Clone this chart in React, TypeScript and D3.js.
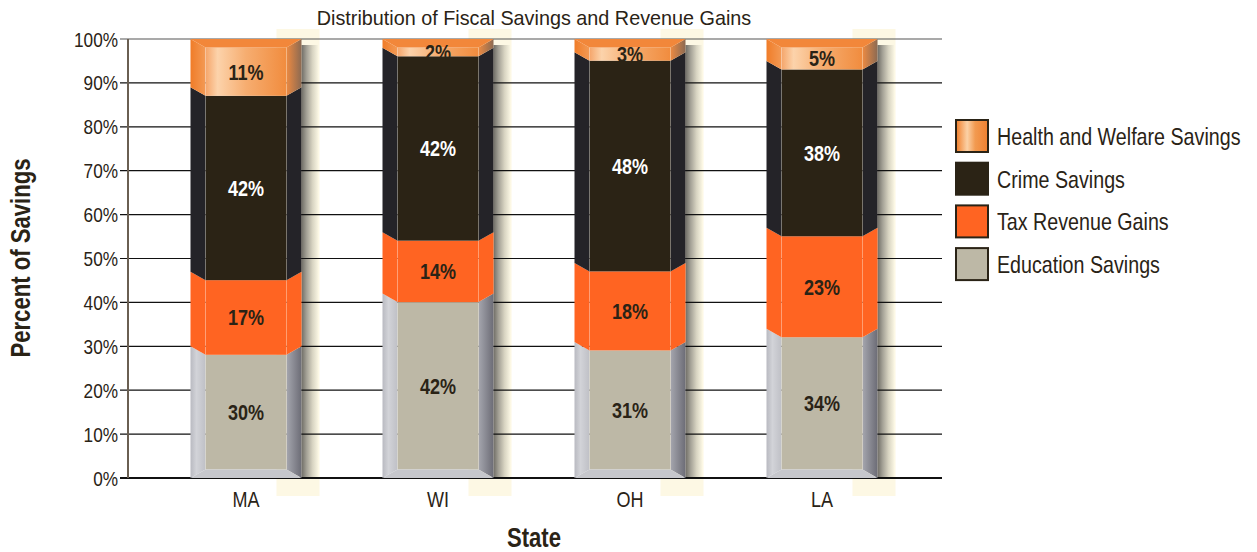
import React from "react";
import * as d3 from "d3";

const states = ["MA", "WI", "OH", "LA"];
const educationSavings = [30, 42, 31, 34];
const taxRevenueGains = [17, 14, 18, 23];
const crimeSavings = [42, 42, 48, 38];
const healthWelfareSavings = [11, 2, 3, 5];
const seriesKeys = ["edu", "tax", "crime", "health"];
const legendLabels = [
  "Health and Welfare Savings",
  "Crime Savings",
  "Tax Revenue Gains",
  "Education Savings",
];
const legendKeys = ["health", "crime", "tax", "edu"];
const yTicks = [0, 10, 20, 30, 40, 50, 60, 70, 80, 90, 100];
const chartTitle = "Distribution of Fiscal Savings and Revenue Gains";
const xTitle = "State";
const yTitle = "Percent of Savings";

const W = 1257;
const H = 552;
const PL = 128;
const PR = 942;
const PT = 39;
const PB = 478;
const SANS = "'Liberation Sans', Arial, sans-serif";
const INK = "#2a2316";
const NARROW_SCALE = 0.82;

type Style = { face: string; left: string; right: string; top: string; bottom: string; text: string };
const styles: Record<string, Style> = {
  edu: { face: "#bdb8a6", left: "url(#eduLeft)", right: "url(#eduRight)", top: "#c6c7cc", bottom: "#c6c7cc", text: INK },
  tax: { face: "#ff6422", left: "#ff6422", right: "#ff6422", top: "#ff6422", bottom: "#ff6422", text: INK },
  crime: { face: "#2b2315", left: "#242328", right: "#242328", top: "#242328", bottom: "#242328", text: "#ffffff" },
  health: { face: "url(#healthFace)", left: "url(#healthLeft)", right: "url(#healthRight)", top: "#f2873a", bottom: "#f2873a", text: INK },
};

function NText(props: {
  x: number;
  y: number;
  size: number;
  anchor?: string;
  bold?: boolean;
  fill?: string;
  rotate?: number;
  sx?: number;
  children: React.ReactNode;
}) {
  const { x, y, size, anchor = "start", bold = false, fill = INK, rotate = 0, sx = NARROW_SCALE, children } = props;
  return (
    <text
      transform={`translate(${x},${y}) rotate(${rotate}) scale(${sx},1)`}
      textAnchor={anchor}
      fontFamily={SANS}
      fontWeight={bold ? "bold" : "normal"}
      fontSize={size}
      fill={fill}
    >
      {children}
    </text>
  );
}

export default function App() {
  const rows = states.map((s, i) => ({
    state: s,
    edu: educationSavings[i],
    tax: taxRevenueGains[i],
    crime: crimeSavings[i],
    health: healthWelfareSavings[i],
  }));
  const stacked = d3.stack<any>().keys(seriesKeys)(rows);
  const y = d3.scaleLinear().domain([0, 100]).range([PB, PT]);
  const x = d3.scaleBand().domain(states).range([150, 918]);
  const barW = 111;
  const ins = 15;
  const d = 8.5;

  const pts = (a: number[][]) => a.map((p) => p.join(",")).join(" ");

  return (
    <svg width={W} height={H} style={{ position: "absolute", left: 0, top: 0, background: "#fff" }}>
      <defs>
        <linearGradient id="eduLeft" x1="0" x2="1" y1="0" y2="0">
          <stop offset="0" stopColor="#b9bac1" />
          <stop offset="0.4" stopColor="#d2d3d8" />
          <stop offset="1" stopColor="#bfc0c6" />
        </linearGradient>
        <linearGradient id="eduRight" x1="0" x2="1" y1="0" y2="0">
          <stop offset="0" stopColor="#a5a6ae" />
          <stop offset="1" stopColor="#6c6c76" />
        </linearGradient>
        <linearGradient id="healthFace" x1="0" x2="1" y1="0" y2="0">
          <stop offset="0" stopColor="#f5a56a" />
          <stop offset="0.15" stopColor="#fcd3ab" />
          <stop offset="0.5" stopColor="#f6ad70" />
          <stop offset="1" stopColor="#f18c3e" />
        </linearGradient>
        <linearGradient id="healthLeft" x1="0" x2="1" y1="0" y2="0">
          <stop offset="0" stopColor="#f07c28" />
          <stop offset="1" stopColor="#f39a55" />
        </linearGradient>
        <linearGradient id="healthRight" x1="0" x2="1" y1="0" y2="0">
          <stop offset="0" stopColor="#ec8a42" />
          <stop offset="1" stopColor="#8c6a52" />
        </linearGradient>
        <linearGradient id="shadow" x1="0" x2="1" y1="0" y2="0">
          <stop offset="0" stopColor="#6f6d66" />
          <stop offset="0.3" stopColor="#a4a196" />
          <stop offset="0.65" stopColor="#d8d4c2" />
          <stop offset="1" stopColor="#fbf7e4" />
        </linearGradient>
        <linearGradient id="legendHealth" x1="0" x2="1" y1="0" y2="0">
          <stop offset="0" stopColor="#f07d28" />
          <stop offset="0.35" stopColor="#fbd1a6" />
          <stop offset="0.6" stopColor="#f29a50" />
          <stop offset="1" stopColor="#ef8030" />
        </linearGradient>
      </defs>

      <NText x={534} y={25} size={20} anchor="middle" sx={0.99}>
        {chartTitle}
      </NText>

      {/* shadows */}
      {states.map((s) => {
        const x1 = (x(s) as number) + (x.bandwidth() - barW) / 2 + barW;
        return (
          <g key={"sh" + s}>
            <rect x={x1 - 25} y={PT - 10} width={43} height={PB - PT + 28} fill="#fdf8e4" />
            <rect x={x1} y={PT + 6} width={17} height={PB - PT - 6} fill="url(#shadow)" />
          </g>
        );
      })}

      {/* gridlines and y ticks */}
      {yTicks.map((t) => (
        <g key={"g" + t}>
          <line x1={120} x2={PR} y1={y(t)} y2={y(t)} stroke={t === 100 ? "#555" : "#111"} strokeWidth={t === 0 ? 2 : 1.2} />
          <NText x={118} y={y(t) + 7.5} size={21} anchor="end">
            {t + "%"}
          </NText>
        </g>
      ))}
      <line x1={PL} x2={PL} y1={PT} y2={PB} stroke="#6a5f52" strokeWidth={2} />

      {/* bars */}
      {states.map((s, si) => {
        const x0 = (x(s) as number) + (x.bandwidth() - barW) / 2;
        const x1 = x0 + barW;
        return (
          <g key={"bar" + s}>
            {stacked.map((layer, li) => {
              const key = layer.key;
              const st = styles[key];
              const [b0, b1] = layer[si];
              const yTop = y(b1);
              const yBot = y(b0);
              const isBottom = b0 === 0;
              const isTop = li === stacked.length - 1;
              const yBotInner = isBottom ? yBot - d : yBot + d;
              const topInner = yTop + d;
              return (
                <g key={key}>
                  <polygon points={pts([[x0, yTop], [x0 + ins, topInner], [x0 + ins, yBotInner], [x0, yBot]])} fill={st.left} />
                  <polygon points={pts([[x1, yTop], [x1 - ins, topInner], [x1 - ins, yBotInner], [x1, yBot]])} fill={st.right} />
                  <rect x={x0 + ins} y={topInner} width={barW - 2 * ins} height={Math.max(0, yBotInner - topInner)} fill={st.face} />
                  {isTop && (
                    <polygon points={pts([[x0, yTop], [x1, yTop], [x1 - ins, topInner], [x0 + ins, topInner]])} fill={st.top} />
                  )}
                  {isBottom && (
                    <polygon points={pts([[x0, yBot], [x1, yBot], [x1 - ins, yBotInner], [x0 + ins, yBotInner]])} fill={st.bottom} />
                  )}
                  <line x1={x0 + ins} x2={x0 + ins} y1={topInner} y2={yBotInner} stroke="#ffffff" strokeOpacity={0.18} />
                  <line x1={x1 - ins} x2={x1 - ins} y1={topInner} y2={yBotInner} stroke="#ffffff" strokeOpacity={0.18} />
                </g>
              );
            })}
            {stacked.map((layer) => {
              const key = layer.key;
              const [b0, b1] = layer[si];
              const topInner = y(b1) + d;
              const botInner = b0 === 0 ? y(b0) - d : y(b0) + d;
              const cy = (topInner + botInner) / 2;
              return (
                <NText key={"l" + key} x={(x0 + x1) / 2} y={cy + 8} size={22} anchor="middle" bold fill={styles[key].text}>
                  {Math.round(b1 - b0) + "%"}
                </NText>
              );
            })}
          </g>
        );
      })}

      {/* x labels */}
      {states.map((s) => (
        <NText key={"x" + s} x={(x(s) as number) + x.bandwidth() / 2} y={507} size={22} anchor="middle">
          {s}
        </NText>
      ))}
      <NText x={534} y={547} size={27} anchor="middle" bold>
        {xTitle}
      </NText>
      <NText x={30} y={258} size={27} anchor="middle" bold rotate={-90}>
        {yTitle}
      </NText>

      {/* legend */}
      {legendKeys.map((k, i) => {
        const ly = 120 + i * 42.7;
        const fill = k === "health" ? "url(#legendHealth)" : styles[k].face;
        return (
          <g key={"lg" + k}>
            <rect x={956} y={ly} width={32} height={32} fill={fill} stroke={INK} strokeWidth={2} />
            <NText x={997} y={ly + 25} size={24}>
              {legendLabels[i]}
            </NText>
          </g>
        );
      })}
    </svg>
  );
}
